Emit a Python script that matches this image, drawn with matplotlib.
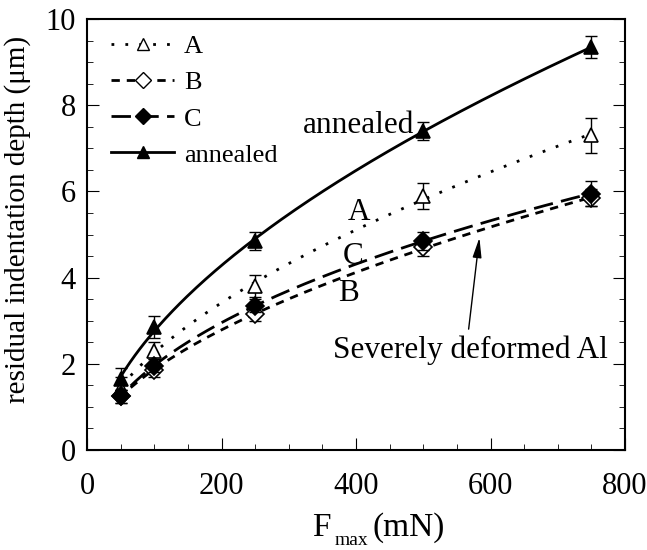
import numpy as np
import matplotlib.pyplot as plt
from matplotlib.ticker import MultipleLocator

plt.rcParams['font.family'] = ['Liberation Serif', 'DejaVu Serif']

# data
force = np.array([50, 100, 250, 500, 750])
depth_A = np.array([1.45, 2.3, 3.8, 5.9, 7.3])
err_A = np.array([0.25, 0.2, 0.25, 0.3, 0.4])
depth_B = np.array([1.25, 1.85, 3.15, 4.7, 5.85])
err_B = np.array([0.15, 0.15, 0.15, 0.2, 0.2])
depth_C = np.array([1.25, 1.95, 3.35, 4.85, 5.95])
err_C = np.array([0.15, 0.15, 0.15, 0.2, 0.3])
depth_ann = np.array([1.65, 2.85, 4.85, 7.4, 9.35])
err_ann = np.array([0.25, 0.25, 0.2, 0.2, 0.25])

W, H = 647, 550
fig, ax = plt.subplots(figsize=(W / 100, H / 100), dpi=100)
fig.subplots_adjust(left=87 / W, right=625 / W, top=1 - 19 / H, bottom=1 - 450 / H)

def fit(x, y, x0):
    # least squares in the basis 1, sqrt(x), x
    xf = np.linspace(x0, 750, 200)
    M = np.column_stack([np.ones(len(x)), np.sqrt(x), x])
    c = np.linalg.lstsq(M, y, rcond=None)[0]
    return xf, c[0] + c[1] * np.sqrt(xf) + c[2] * xf

series = [
    (depth_A, err_A, '^', 'white', (0, (1, 4)), 'A', 65),
    (depth_B, err_B, 'D', 'white', (0, (3, 2.5)), 'B', 65),
    (depth_C, err_C, 'D', 'black', (0, (7, 3)), 'C', 65),
    (depth_ann, err_ann, '^', 'black', '-', 'annealed', 50),
]
for y, e, m, fc, ls, lab, x0 in series:
    ax.errorbar(force, y, yerr=e, fmt='none', ecolor='black', elinewidth=1, capsize=4)
    xf, yf = fit(force, y, x0)
    ax.plot(xf, yf, color='black', ls=ls, lw=2)
    ax.plot(force, y, ls='none', marker=m, mfc=fc, mec='black', mew=1.2,
            ms=10 if m == '^' else 9)
    ax.plot([], [], color='black', ls=ls, lw=2, marker=m, mfc=fc, mec='black',
            ms=9 if m == '^' else 8, label=lab)

ax.set_xlim(0, 800)
ax.set_ylim(0, 10)
ax.xaxis.set_major_locator(MultipleLocator(200))
ax.xaxis.set_minor_locator(MultipleLocator(50))
ax.yaxis.set_major_locator(MultipleLocator(2))
ax.yaxis.set_minor_locator(MultipleLocator(0.5))
ax.tick_params(which='both', direction='in', right=True, labelsize=22)
ax.tick_params(axis='x', pad=16)
ax.tick_params(axis='y', pad=8)
ax.tick_params(which='major', length=8.5)
ax.tick_params(which='minor', length=4.3)
for s in ax.spines.values():
    s.set_linewidth(1.5)

# x label: F, subscript "max", (mN)
fig.text(312 / W, 1 - 536 / H, 'F', fontsize=24, va='baseline')
fig.text(335 / W, 1 - 545 / H, 'max', fontsize=14, va='baseline')
fig.text(372 / W, 1 - 536 / H, '(mN)', fontsize=24, va='baseline')

ax.set_ylabel('residual indentation depth (μm)', fontsize=21, labelpad=2)
ax.yaxis.set_label_coords(-0.105, 0.535)

ax.text(321, 7.52, 'annealed', fontsize=22.5, va='center')
ax.text(387, 5.52, 'A', fontsize=22.5, va='center')
ax.text(381, 4.5, 'C', fontsize=22.5, va='center')
ax.text(373, 3.62, 'B', fontsize=22.5, va='center')
ax.text(366, 2.32, 'Severely deformed Al', fontsize=22.5, va='center')
ax.annotate('', xy=(584, 4.99), xytext=(567, 2.74),
            arrowprops=dict(arrowstyle='-|>,head_length=0.8,head_width=0.18',
                            color='black', lw=1, mutation_scale=15))

ax.legend(loc='upper left', bbox_to_anchor=(8 / 538, 1), frameon=False, fontsize=19,
          handlelength=2.4, handletextpad=0.38, labelspacing=0.48, borderaxespad=0.2)

fig.savefig('out.png')
